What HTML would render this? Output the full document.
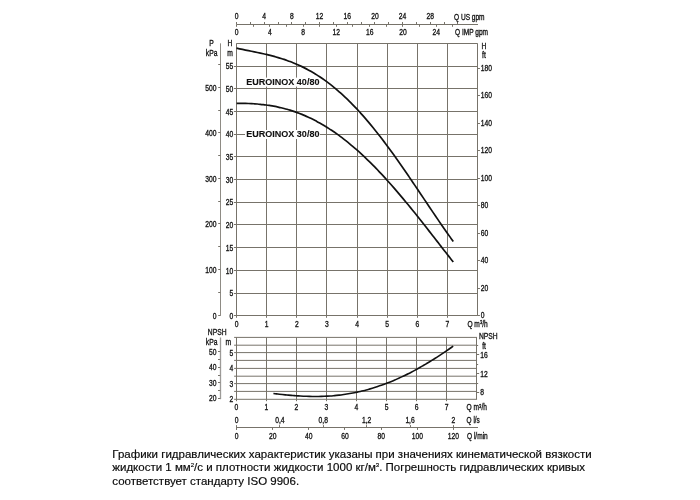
<!DOCTYPE html>
<html lang="ru">
<head>
<meta charset="utf-8">
<title>EUROINOX</title>
<style>
html,body{margin:0;padding:0;background:#fff;}
body{width:700px;height:500px;position:relative;overflow:hidden;font-family:"Liberation Sans",sans-serif;}
svg{position:absolute;left:0;top:0;}
svg text{font-family:"Liberation Sans",sans-serif;}
.note{position:absolute;left:112.3px;top:448.2px;width:520px;font-size:11.5px;line-height:13.2px;color:#0a0a0a;-webkit-text-stroke:0.18px #0a0a0a;white-space:nowrap;}
.note sup{font-size:6px;line-height:0;vertical-align:baseline;position:relative;top:-4.4px;}
</style>
</head>
<body>
<svg width="700" height="500" viewBox="0 0 700 500">
<line x1="236.50" y1="24.50" x2="478.00" y2="24.50" stroke="#77736a" stroke-width="1" />
<line x1="236.50" y1="22.00" x2="236.50" y2="24.40" stroke="#77736a" stroke-width="1" />
<line x1="250.50" y1="22.00" x2="250.50" y2="24.40" stroke="#77736a" stroke-width="1" />
<line x1="264.50" y1="22.00" x2="264.50" y2="24.40" stroke="#77736a" stroke-width="1" />
<line x1="278.50" y1="22.00" x2="278.50" y2="24.40" stroke="#77736a" stroke-width="1" />
<line x1="291.50" y1="22.00" x2="291.50" y2="24.40" stroke="#77736a" stroke-width="1" />
<line x1="305.50" y1="22.00" x2="305.50" y2="24.40" stroke="#77736a" stroke-width="1" />
<line x1="319.50" y1="22.00" x2="319.50" y2="24.40" stroke="#77736a" stroke-width="1" />
<line x1="333.50" y1="22.00" x2="333.50" y2="24.40" stroke="#77736a" stroke-width="1" />
<line x1="347.50" y1="22.00" x2="347.50" y2="24.40" stroke="#77736a" stroke-width="1" />
<line x1="361.50" y1="22.00" x2="361.50" y2="24.40" stroke="#77736a" stroke-width="1" />
<line x1="374.50" y1="22.00" x2="374.50" y2="24.40" stroke="#77736a" stroke-width="1" />
<line x1="388.50" y1="22.00" x2="388.50" y2="24.40" stroke="#77736a" stroke-width="1" />
<line x1="402.50" y1="22.00" x2="402.50" y2="24.40" stroke="#77736a" stroke-width="1" />
<line x1="416.50" y1="22.00" x2="416.50" y2="24.40" stroke="#77736a" stroke-width="1" />
<line x1="430.50" y1="22.00" x2="430.50" y2="24.40" stroke="#77736a" stroke-width="1" />
<line x1="444.50" y1="22.00" x2="444.50" y2="24.40" stroke="#77736a" stroke-width="1" />
<line x1="457.50" y1="22.00" x2="457.50" y2="24.40" stroke="#77736a" stroke-width="1" />
<line x1="236.50" y1="24.40" x2="236.50" y2="26.80" stroke="#77736a" stroke-width="1" />
<line x1="253.50" y1="24.40" x2="253.50" y2="26.80" stroke="#77736a" stroke-width="1" />
<line x1="269.50" y1="24.40" x2="269.50" y2="26.80" stroke="#77736a" stroke-width="1" />
<line x1="286.50" y1="24.40" x2="286.50" y2="26.80" stroke="#77736a" stroke-width="1" />
<line x1="303.50" y1="24.40" x2="303.50" y2="26.80" stroke="#77736a" stroke-width="1" />
<line x1="319.50" y1="24.40" x2="319.50" y2="26.80" stroke="#77736a" stroke-width="1" />
<line x1="336.50" y1="24.40" x2="336.50" y2="26.80" stroke="#77736a" stroke-width="1" />
<line x1="352.50" y1="24.40" x2="352.50" y2="26.80" stroke="#77736a" stroke-width="1" />
<line x1="369.50" y1="24.40" x2="369.50" y2="26.80" stroke="#77736a" stroke-width="1" />
<line x1="386.50" y1="24.40" x2="386.50" y2="26.80" stroke="#77736a" stroke-width="1" />
<line x1="402.50" y1="24.40" x2="402.50" y2="26.80" stroke="#77736a" stroke-width="1" />
<line x1="419.50" y1="24.40" x2="419.50" y2="26.80" stroke="#77736a" stroke-width="1" />
<line x1="436.50" y1="24.40" x2="436.50" y2="26.80" stroke="#77736a" stroke-width="1" />
<line x1="452.50" y1="24.40" x2="452.50" y2="26.80" stroke="#77736a" stroke-width="1" />
<text transform="translate(236.50 19.20) scale(0.775 1)" text-anchor="middle" font-size="8.7" font-weight="normal" fill="#131313" stroke="#131313" stroke-width="0.34">0</text>
<text transform="translate(264.18 19.20) scale(0.775 1)" text-anchor="middle" font-size="8.7" font-weight="normal" fill="#131313" stroke="#131313" stroke-width="0.34">4</text>
<text transform="translate(291.86 19.20) scale(0.775 1)" text-anchor="middle" font-size="8.7" font-weight="normal" fill="#131313" stroke="#131313" stroke-width="0.34">8</text>
<text transform="translate(319.54 19.20) scale(0.775 1)" text-anchor="middle" font-size="8.7" font-weight="normal" fill="#131313" stroke="#131313" stroke-width="0.34">12</text>
<text transform="translate(347.22 19.20) scale(0.775 1)" text-anchor="middle" font-size="8.7" font-weight="normal" fill="#131313" stroke="#131313" stroke-width="0.34">16</text>
<text transform="translate(374.90 19.20) scale(0.775 1)" text-anchor="middle" font-size="8.7" font-weight="normal" fill="#131313" stroke="#131313" stroke-width="0.34">20</text>
<text transform="translate(402.58 19.20) scale(0.775 1)" text-anchor="middle" font-size="8.7" font-weight="normal" fill="#131313" stroke="#131313" stroke-width="0.34">24</text>
<text transform="translate(430.26 19.20) scale(0.775 1)" text-anchor="middle" font-size="8.7" font-weight="normal" fill="#131313" stroke="#131313" stroke-width="0.34">28</text>
<text transform="translate(236.50 34.60) scale(0.775 1)" text-anchor="middle" font-size="8.7" font-weight="normal" fill="#131313" stroke="#131313" stroke-width="0.34">0</text>
<text transform="translate(269.78 34.60) scale(0.775 1)" text-anchor="middle" font-size="8.7" font-weight="normal" fill="#131313" stroke="#131313" stroke-width="0.34">4</text>
<text transform="translate(303.06 34.60) scale(0.775 1)" text-anchor="middle" font-size="8.7" font-weight="normal" fill="#131313" stroke="#131313" stroke-width="0.34">8</text>
<text transform="translate(336.34 34.60) scale(0.775 1)" text-anchor="middle" font-size="8.7" font-weight="normal" fill="#131313" stroke="#131313" stroke-width="0.34">12</text>
<text transform="translate(369.62 34.60) scale(0.775 1)" text-anchor="middle" font-size="8.7" font-weight="normal" fill="#131313" stroke="#131313" stroke-width="0.34">16</text>
<text transform="translate(402.90 34.60) scale(0.775 1)" text-anchor="middle" font-size="8.7" font-weight="normal" fill="#131313" stroke="#131313" stroke-width="0.34">20</text>
<text transform="translate(436.18 34.60) scale(0.775 1)" text-anchor="middle" font-size="8.7" font-weight="normal" fill="#131313" stroke="#131313" stroke-width="0.34">24</text>
<text transform="translate(454.00 19.70) scale(0.755 1)" text-anchor="start" font-size="8.7" font-weight="normal" fill="#131313" stroke="#131313" stroke-width="0.34">Q US gpm</text>
<text transform="translate(455.00 34.80) scale(0.755 1)" text-anchor="start" font-size="8.7" font-weight="normal" fill="#131313" stroke="#131313" stroke-width="0.34">Q IMP gpm</text>
<line x1="236.50" y1="43.34" x2="236.50" y2="315.80" stroke="#77736a" stroke-width="1" />
<line x1="266.50" y1="43.34" x2="266.50" y2="315.80" stroke="#77736a" stroke-width="1" />
<line x1="296.50" y1="43.34" x2="296.50" y2="315.80" stroke="#77736a" stroke-width="1" />
<line x1="326.50" y1="43.34" x2="326.50" y2="315.80" stroke="#77736a" stroke-width="1" />
<line x1="357.50" y1="43.34" x2="357.50" y2="315.80" stroke="#77736a" stroke-width="1" />
<line x1="387.50" y1="43.34" x2="387.50" y2="315.80" stroke="#77736a" stroke-width="1" />
<line x1="417.50" y1="43.34" x2="417.50" y2="315.80" stroke="#77736a" stroke-width="1" />
<line x1="447.50" y1="43.34" x2="447.50" y2="315.80" stroke="#77736a" stroke-width="1" />
<line x1="477.50" y1="43.34" x2="477.50" y2="315.80" stroke="#77736a" stroke-width="1" />
<line x1="233.90" y1="315.50" x2="477.54" y2="315.50" stroke="#77736a" stroke-width="1" />
<line x1="233.90" y1="293.50" x2="477.54" y2="293.50" stroke="#77736a" stroke-width="1" />
<line x1="233.90" y1="270.50" x2="477.54" y2="270.50" stroke="#77736a" stroke-width="1" />
<line x1="233.90" y1="247.50" x2="477.54" y2="247.50" stroke="#77736a" stroke-width="1" />
<line x1="233.90" y1="224.50" x2="477.54" y2="224.50" stroke="#77736a" stroke-width="1" />
<line x1="233.90" y1="202.50" x2="477.54" y2="202.50" stroke="#77736a" stroke-width="1" />
<line x1="233.90" y1="179.50" x2="477.54" y2="179.50" stroke="#77736a" stroke-width="1" />
<line x1="233.90" y1="156.50" x2="477.54" y2="156.50" stroke="#77736a" stroke-width="1" />
<line x1="233.90" y1="134.50" x2="477.54" y2="134.50" stroke="#77736a" stroke-width="1" />
<line x1="233.90" y1="111.50" x2="477.54" y2="111.50" stroke="#77736a" stroke-width="1" />
<line x1="233.90" y1="88.50" x2="477.54" y2="88.50" stroke="#77736a" stroke-width="1" />
<line x1="233.90" y1="66.50" x2="477.54" y2="66.50" stroke="#77736a" stroke-width="1" />
<line x1="236.50" y1="43.50" x2="477.54" y2="43.50" stroke="#77736a" stroke-width="1" />
<line x1="236.50" y1="315.80" x2="236.50" y2="317.80" stroke="#77736a" stroke-width="1" />
<line x1="266.50" y1="315.80" x2="266.50" y2="317.80" stroke="#77736a" stroke-width="1" />
<line x1="296.50" y1="315.80" x2="296.50" y2="317.80" stroke="#77736a" stroke-width="1" />
<line x1="326.50" y1="315.80" x2="326.50" y2="317.80" stroke="#77736a" stroke-width="1" />
<line x1="357.50" y1="315.80" x2="357.50" y2="317.80" stroke="#77736a" stroke-width="1" />
<line x1="387.50" y1="315.80" x2="387.50" y2="317.80" stroke="#77736a" stroke-width="1" />
<line x1="417.50" y1="315.80" x2="417.50" y2="317.80" stroke="#77736a" stroke-width="1" />
<line x1="447.50" y1="315.80" x2="447.50" y2="317.80" stroke="#77736a" stroke-width="1" />
<line x1="220.50" y1="43.34" x2="220.50" y2="315.80" stroke="#8e8b84" stroke-width="1" />
<line x1="218.20" y1="315.50" x2="220.40" y2="315.50" stroke="#77736a" stroke-width="1" />
<line x1="218.20" y1="292.50" x2="220.40" y2="292.50" stroke="#77736a" stroke-width="1" />
<line x1="218.20" y1="269.50" x2="220.40" y2="269.50" stroke="#77736a" stroke-width="1" />
<line x1="218.20" y1="246.50" x2="220.40" y2="246.50" stroke="#77736a" stroke-width="1" />
<line x1="218.20" y1="223.50" x2="220.40" y2="223.50" stroke="#77736a" stroke-width="1" />
<line x1="218.20" y1="201.50" x2="220.40" y2="201.50" stroke="#77736a" stroke-width="1" />
<line x1="218.20" y1="178.50" x2="220.40" y2="178.50" stroke="#77736a" stroke-width="1" />
<line x1="218.20" y1="155.50" x2="220.40" y2="155.50" stroke="#77736a" stroke-width="1" />
<line x1="218.20" y1="132.50" x2="220.40" y2="132.50" stroke="#77736a" stroke-width="1" />
<line x1="218.20" y1="110.50" x2="220.40" y2="110.50" stroke="#77736a" stroke-width="1" />
<line x1="218.20" y1="87.50" x2="220.40" y2="87.50" stroke="#77736a" stroke-width="1" />
<line x1="218.20" y1="64.50" x2="220.40" y2="64.50" stroke="#77736a" stroke-width="1" />
<text transform="translate(216.50 318.80) scale(0.775 1)" text-anchor="end" font-size="8.7" font-weight="normal" fill="#131313" stroke="#131313" stroke-width="0.34">0</text>
<text transform="translate(216.50 272.52) scale(0.775 1)" text-anchor="end" font-size="8.7" font-weight="normal" fill="#131313" stroke="#131313" stroke-width="0.34">100</text>
<text transform="translate(216.50 227.04) scale(0.775 1)" text-anchor="end" font-size="8.7" font-weight="normal" fill="#131313" stroke="#131313" stroke-width="0.34">200</text>
<text transform="translate(216.50 181.56) scale(0.775 1)" text-anchor="end" font-size="8.7" font-weight="normal" fill="#131313" stroke="#131313" stroke-width="0.34">300</text>
<text transform="translate(216.50 136.08) scale(0.775 1)" text-anchor="end" font-size="8.7" font-weight="normal" fill="#131313" stroke="#131313" stroke-width="0.34">400</text>
<text transform="translate(216.50 90.60) scale(0.775 1)" text-anchor="end" font-size="8.7" font-weight="normal" fill="#131313" stroke="#131313" stroke-width="0.34">500</text>
<text transform="translate(233.20 319.00) scale(0.775 1)" text-anchor="end" font-size="8.7" font-weight="normal" fill="#131313" stroke="#131313" stroke-width="0.34">0</text>
<text transform="translate(233.20 296.30) scale(0.775 1)" text-anchor="end" font-size="8.7" font-weight="normal" fill="#131313" stroke="#131313" stroke-width="0.34">5</text>
<text transform="translate(233.20 273.59) scale(0.775 1)" text-anchor="end" font-size="8.7" font-weight="normal" fill="#131313" stroke="#131313" stroke-width="0.34">10</text>
<text transform="translate(233.20 250.88) scale(0.775 1)" text-anchor="end" font-size="8.7" font-weight="normal" fill="#131313" stroke="#131313" stroke-width="0.34">15</text>
<text transform="translate(233.20 228.18) scale(0.775 1)" text-anchor="end" font-size="8.7" font-weight="normal" fill="#131313" stroke="#131313" stroke-width="0.34">20</text>
<text transform="translate(233.20 205.47) scale(0.775 1)" text-anchor="end" font-size="8.7" font-weight="normal" fill="#131313" stroke="#131313" stroke-width="0.34">25</text>
<text transform="translate(233.20 182.77) scale(0.775 1)" text-anchor="end" font-size="8.7" font-weight="normal" fill="#131313" stroke="#131313" stroke-width="0.34">30</text>
<text transform="translate(233.20 160.06) scale(0.775 1)" text-anchor="end" font-size="8.7" font-weight="normal" fill="#131313" stroke="#131313" stroke-width="0.34">35</text>
<text transform="translate(233.20 137.36) scale(0.775 1)" text-anchor="end" font-size="8.7" font-weight="normal" fill="#131313" stroke="#131313" stroke-width="0.34">40</text>
<text transform="translate(233.20 114.65) scale(0.775 1)" text-anchor="end" font-size="8.7" font-weight="normal" fill="#131313" stroke="#131313" stroke-width="0.34">45</text>
<text transform="translate(233.20 91.95) scale(0.775 1)" text-anchor="end" font-size="8.7" font-weight="normal" fill="#131313" stroke="#131313" stroke-width="0.34">50</text>
<text transform="translate(233.20 69.24) scale(0.775 1)" text-anchor="end" font-size="8.7" font-weight="normal" fill="#131313" stroke="#131313" stroke-width="0.34">55</text>
<text transform="translate(211.60 46.00) scale(0.775 1)" text-anchor="middle" font-size="8.7" font-weight="normal" fill="#131313" stroke="#131313" stroke-width="0.34">P</text>
<text transform="translate(211.60 56.00) scale(0.775 1)" text-anchor="middle" font-size="8.7" font-weight="normal" fill="#131313" stroke="#131313" stroke-width="0.34">kPa</text>
<text transform="translate(230.00 46.00) scale(0.775 1)" text-anchor="middle" font-size="8.7" font-weight="normal" fill="#131313" stroke="#131313" stroke-width="0.34">H</text>
<text transform="translate(230.00 56.00) scale(0.775 1)" text-anchor="middle" font-size="8.7" font-weight="normal" fill="#131313" stroke="#131313" stroke-width="0.34">m</text>
<line x1="477.54" y1="315.50" x2="479.94" y2="315.50" stroke="#77736a" stroke-width="1" />
<line x1="477.54" y1="288.50" x2="479.94" y2="288.50" stroke="#77736a" stroke-width="1" />
<line x1="477.54" y1="260.50" x2="479.94" y2="260.50" stroke="#77736a" stroke-width="1" />
<line x1="477.54" y1="233.50" x2="479.94" y2="233.50" stroke="#77736a" stroke-width="1" />
<line x1="477.54" y1="205.50" x2="479.94" y2="205.50" stroke="#77736a" stroke-width="1" />
<line x1="477.54" y1="178.50" x2="479.94" y2="178.50" stroke="#77736a" stroke-width="1" />
<line x1="477.54" y1="150.50" x2="479.94" y2="150.50" stroke="#77736a" stroke-width="1" />
<line x1="477.54" y1="123.50" x2="479.94" y2="123.50" stroke="#77736a" stroke-width="1" />
<line x1="477.54" y1="95.50" x2="479.94" y2="95.50" stroke="#77736a" stroke-width="1" />
<line x1="477.54" y1="68.50" x2="479.94" y2="68.50" stroke="#77736a" stroke-width="1" />
<text transform="translate(480.80 318.30) scale(0.775 1)" text-anchor="start" font-size="8.7" font-weight="normal" fill="#131313" stroke="#131313" stroke-width="0.34">0</text>
<text transform="translate(480.80 290.78) scale(0.775 1)" text-anchor="start" font-size="8.7" font-weight="normal" fill="#131313" stroke="#131313" stroke-width="0.34">20</text>
<text transform="translate(480.80 263.26) scale(0.775 1)" text-anchor="start" font-size="8.7" font-weight="normal" fill="#131313" stroke="#131313" stroke-width="0.34">40</text>
<text transform="translate(480.80 235.74) scale(0.775 1)" text-anchor="start" font-size="8.7" font-weight="normal" fill="#131313" stroke="#131313" stroke-width="0.34">60</text>
<text transform="translate(480.80 208.22) scale(0.775 1)" text-anchor="start" font-size="8.7" font-weight="normal" fill="#131313" stroke="#131313" stroke-width="0.34">80</text>
<text transform="translate(480.80 180.70) scale(0.775 1)" text-anchor="start" font-size="8.7" font-weight="normal" fill="#131313" stroke="#131313" stroke-width="0.34">100</text>
<text transform="translate(480.80 153.18) scale(0.775 1)" text-anchor="start" font-size="8.7" font-weight="normal" fill="#131313" stroke="#131313" stroke-width="0.34">120</text>
<text transform="translate(480.80 125.66) scale(0.775 1)" text-anchor="start" font-size="8.7" font-weight="normal" fill="#131313" stroke="#131313" stroke-width="0.34">140</text>
<text transform="translate(480.80 98.14) scale(0.775 1)" text-anchor="start" font-size="8.7" font-weight="normal" fill="#131313" stroke="#131313" stroke-width="0.34">160</text>
<text transform="translate(480.80 70.62) scale(0.775 1)" text-anchor="start" font-size="8.7" font-weight="normal" fill="#131313" stroke="#131313" stroke-width="0.34">180</text>
<text transform="translate(484.00 49.00) scale(0.775 1)" text-anchor="middle" font-size="8.7" font-weight="normal" fill="#131313" stroke="#131313" stroke-width="0.34">H</text>
<text transform="translate(483.90 57.80) scale(0.775 1)" text-anchor="middle" font-size="8.7" font-weight="normal" fill="#131313" stroke="#131313" stroke-width="0.34">ft</text>
<text transform="translate(236.50 327.20) scale(0.775 1)" text-anchor="middle" font-size="8.7" font-weight="normal" fill="#131313" stroke="#131313" stroke-width="0.34">0</text>
<text transform="translate(266.63 327.20) scale(0.775 1)" text-anchor="middle" font-size="8.7" font-weight="normal" fill="#131313" stroke="#131313" stroke-width="0.34">1</text>
<text transform="translate(296.76 327.20) scale(0.775 1)" text-anchor="middle" font-size="8.7" font-weight="normal" fill="#131313" stroke="#131313" stroke-width="0.34">2</text>
<text transform="translate(326.89 327.20) scale(0.775 1)" text-anchor="middle" font-size="8.7" font-weight="normal" fill="#131313" stroke="#131313" stroke-width="0.34">3</text>
<text transform="translate(357.02 327.20) scale(0.775 1)" text-anchor="middle" font-size="8.7" font-weight="normal" fill="#131313" stroke="#131313" stroke-width="0.34">4</text>
<text transform="translate(387.15 327.20) scale(0.775 1)" text-anchor="middle" font-size="8.7" font-weight="normal" fill="#131313" stroke="#131313" stroke-width="0.34">5</text>
<text transform="translate(417.28 327.20) scale(0.775 1)" text-anchor="middle" font-size="8.7" font-weight="normal" fill="#131313" stroke="#131313" stroke-width="0.34">6</text>
<text transform="translate(447.41 327.20) scale(0.775 1)" text-anchor="middle" font-size="8.7" font-weight="normal" fill="#131313" stroke="#131313" stroke-width="0.34">7</text>
<text transform="translate(467.4 327.2) scale(0.76 1)" font-size="8.7" fill="#131313" stroke="#131313" stroke-width="0.34">Q m<tspan dy="-2.8" font-size="5.6">3</tspan><tspan dy="2.8">/h</tspan></text>
<rect x="245" y="77.6" width="75" height="9" fill="#fff"/>
<rect x="245" y="130" width="75" height="9" fill="#fff"/>
<path d="M236.60 48.17 C237.09 48.28 238.58 48.61 239.57 48.82 C240.56 49.03 241.55 49.24 242.54 49.45 C243.53 49.65 244.52 49.85 245.51 50.05 C246.49 50.26 247.48 50.46 248.47 50.66 C249.46 50.85 250.45 51.05 251.44 51.25 C252.43 51.45 253.42 51.65 254.41 51.86 C255.40 52.06 256.39 52.26 257.38 52.47 C258.37 52.68 259.36 52.89 260.35 53.10 C261.34 53.31 262.33 53.53 263.32 53.75 C264.31 53.98 265.30 54.20 266.28 54.44 C267.27 54.67 268.26 54.91 269.25 55.15 C270.24 55.40 271.23 55.65 272.22 55.91 C273.21 56.17 274.20 56.44 275.19 56.71 C276.18 56.99 277.17 57.27 278.16 57.56 C279.15 57.85 280.14 58.15 281.13 58.47 C282.12 58.78 283.11 59.10 284.10 59.43 C285.09 59.76 286.07 60.10 287.06 60.45 C288.05 60.81 289.04 61.17 290.03 61.55 C291.02 61.92 292.01 62.31 293.00 62.71 C293.99 63.11 294.98 63.52 295.97 63.94 C296.96 64.37 297.95 64.80 298.94 65.25 C299.93 65.70 300.92 66.17 301.91 66.64 C302.90 67.12 303.89 67.61 304.88 68.12 C305.86 68.62 306.85 69.14 307.84 69.68 C308.83 70.21 309.82 70.76 310.81 71.32 C311.80 71.89 312.79 72.47 313.78 73.06 C314.77 73.65 315.76 74.26 316.75 74.89 C317.74 75.51 318.73 76.15 319.72 76.81 C320.71 77.46 321.70 78.13 322.69 78.82 C323.68 79.51 324.67 80.21 325.65 80.93 C326.64 81.65 327.63 82.39 328.62 83.14 C329.61 83.89 330.60 84.66 331.59 85.44 C332.58 86.22 333.57 87.02 334.56 87.84 C335.55 88.66 336.54 89.49 337.53 90.34 C338.52 91.19 339.51 92.05 340.50 92.94 C341.49 93.82 342.48 94.72 343.47 95.63 C344.46 96.54 345.44 97.48 346.43 98.42 C347.42 99.37 348.41 100.33 349.40 101.31 C350.39 102.29 351.38 103.28 352.37 104.29 C353.36 105.31 354.35 106.33 355.34 107.37 C356.33 108.42 357.32 109.47 358.31 110.55 C359.30 111.62 360.29 112.71 361.28 113.81 C362.27 114.91 363.26 116.03 364.25 117.16 C365.23 118.30 366.22 119.44 367.21 120.61 C368.20 121.77 369.19 122.94 370.18 124.13 C371.17 125.32 372.16 126.53 373.15 127.74 C374.14 128.96 375.13 130.19 376.12 131.44 C377.11 132.68 378.10 133.94 379.09 135.21 C380.08 136.47 381.07 137.76 382.06 139.05 C383.05 140.34 384.04 141.65 385.02 142.96 C386.01 144.28 387.00 145.61 387.99 146.95 C388.98 148.29 389.97 149.63 390.96 150.99 C391.95 152.35 392.94 153.72 393.93 155.10 C394.92 156.48 395.91 157.87 396.90 159.26 C397.89 160.66 398.88 162.06 399.87 163.47 C400.86 164.88 401.85 166.30 402.84 167.73 C403.83 169.16 404.81 170.59 405.80 172.03 C406.79 173.47 407.78 174.92 408.77 176.37 C409.76 177.82 410.75 179.27 411.74 180.73 C412.73 182.19 413.72 183.66 414.71 185.12 C415.70 186.59 416.69 188.06 417.68 189.53 C418.67 191.00 419.66 192.48 420.65 193.95 C421.64 195.43 422.63 196.91 423.62 198.38 C424.60 199.86 425.59 201.34 426.58 202.81 C427.57 204.29 428.56 205.76 429.55 207.24 C430.54 208.71 431.53 210.18 432.52 211.64 C433.51 213.11 434.50 214.57 435.49 216.03 C436.48 217.49 437.47 218.94 438.46 220.39 C439.45 221.84 440.44 223.28 441.43 224.71 C442.42 226.15 443.41 227.57 444.39 228.99 C445.38 230.41 446.37 231.82 447.36 233.22 C448.35 234.61 449.34 236.00 450.33 237.38 C451.32 238.76 452.81 240.79 453.30 241.48" fill="none" stroke="#111" stroke-width="1.7" stroke-linecap="butt"/>
<path d="M236.60 103.38 C237.09 103.37 238.58 103.35 239.57 103.35 C240.56 103.35 241.55 103.35 242.54 103.36 C243.53 103.37 244.52 103.39 245.51 103.41 C246.49 103.43 247.48 103.46 248.47 103.49 C249.46 103.53 250.45 103.57 251.44 103.62 C252.43 103.67 253.42 103.73 254.41 103.79 C255.40 103.86 256.39 103.93 257.38 104.01 C258.37 104.09 259.36 104.18 260.35 104.28 C261.34 104.37 262.33 104.48 263.32 104.60 C264.31 104.71 265.30 104.84 266.28 104.97 C267.27 105.10 268.26 105.25 269.25 105.40 C270.24 105.55 271.23 105.72 272.22 105.89 C273.21 106.06 274.20 106.25 275.19 106.44 C276.18 106.63 277.17 106.84 278.16 107.05 C279.15 107.27 280.14 107.49 281.13 107.73 C282.12 107.97 283.11 108.22 284.10 108.47 C285.09 108.73 286.07 109.00 287.06 109.29 C288.05 109.57 289.04 109.86 290.03 110.17 C291.02 110.47 292.01 110.79 293.00 111.12 C293.99 111.45 294.98 111.79 295.97 112.14 C296.96 112.49 297.95 112.86 298.94 113.23 C299.93 113.61 300.92 114.00 301.91 114.40 C302.90 114.81 303.89 115.22 304.88 115.65 C305.86 116.07 306.85 116.51 307.84 116.97 C308.83 117.42 309.82 117.88 310.81 118.36 C311.80 118.84 312.79 119.33 313.78 119.83 C314.77 120.34 315.76 120.86 316.75 121.38 C317.74 121.91 318.73 122.46 319.72 123.01 C320.71 123.57 321.70 124.14 322.69 124.72 C323.68 125.30 324.67 125.90 325.65 126.50 C326.64 127.11 327.63 127.73 328.62 128.37 C329.61 129.00 330.60 129.65 331.59 130.31 C332.58 130.97 333.57 131.64 334.56 132.32 C335.55 133.01 336.54 133.71 337.53 134.42 C338.52 135.13 339.51 135.86 340.50 136.60 C341.49 137.33 342.48 138.08 343.47 138.85 C344.46 139.61 345.44 140.39 346.43 141.17 C347.42 141.96 348.41 142.76 349.40 143.58 C350.39 144.39 351.38 145.22 352.37 146.06 C353.36 146.89 354.35 147.74 355.34 148.61 C356.33 149.47 357.32 150.35 358.31 151.23 C359.30 152.12 360.29 153.02 361.28 153.93 C362.27 154.84 363.26 155.76 364.25 156.70 C365.23 157.63 366.22 158.58 367.21 159.53 C368.20 160.49 369.19 161.46 370.18 162.44 C371.17 163.42 372.16 164.41 373.15 165.41 C374.14 166.41 375.13 167.42 376.12 168.45 C377.11 169.47 378.10 170.50 379.09 171.55 C380.08 172.59 381.07 173.64 382.06 174.70 C383.05 175.77 384.04 176.84 385.02 177.92 C386.01 179.01 387.00 180.10 387.99 181.20 C388.98 182.30 389.97 183.41 390.96 184.53 C391.95 185.65 392.94 186.78 393.93 187.91 C394.92 189.05 395.91 190.19 396.90 191.34 C397.89 192.50 398.88 193.66 399.87 194.83 C400.86 195.99 401.85 197.17 402.84 198.35 C403.83 199.53 404.81 200.72 405.80 201.92 C406.79 203.11 407.78 204.32 408.77 205.52 C409.76 206.73 410.75 207.95 411.74 209.17 C412.73 210.39 413.72 211.61 414.71 212.84 C415.70 214.07 416.69 215.31 417.68 216.55 C418.67 217.79 419.66 219.03 420.65 220.28 C421.64 221.53 422.63 222.78 423.62 224.04 C424.60 225.29 425.59 226.55 426.58 227.82 C427.57 229.08 428.56 230.34 429.55 231.61 C430.54 232.88 431.53 234.14 432.52 235.41 C433.51 236.68 434.50 237.96 435.49 239.23 C436.48 240.50 437.47 241.78 438.46 243.05 C439.45 244.32 440.44 245.60 441.43 246.87 C442.42 248.14 443.41 249.41 444.39 250.69 C445.38 251.96 446.37 253.23 447.36 254.50 C448.35 255.76 449.34 257.03 450.33 258.29 C451.32 259.56 452.81 261.44 453.30 262.07" fill="none" stroke="#111" stroke-width="1.7" stroke-linecap="butt"/>
<text transform="translate(246.30 84.90) scale(1.05 1)" text-anchor="start" font-size="8.6" font-weight="bold" fill="#111" stroke="#111" stroke-width="0.1">EUROINOX 40/80</text>
<text transform="translate(246.30 137.20) scale(1.05 1)" text-anchor="start" font-size="8.6" font-weight="bold" fill="#111" stroke="#111" stroke-width="0.1">EUROINOX 30/80</text>
<line x1="236.50" y1="337.48" x2="236.50" y2="399.20" stroke="#77736a" stroke-width="1" />
<line x1="266.50" y1="337.48" x2="266.50" y2="399.20" stroke="#77736a" stroke-width="1" />
<line x1="296.50" y1="337.48" x2="296.50" y2="399.20" stroke="#77736a" stroke-width="1" />
<line x1="326.50" y1="337.48" x2="326.50" y2="399.20" stroke="#77736a" stroke-width="1" />
<line x1="356.50" y1="337.48" x2="356.50" y2="399.20" stroke="#77736a" stroke-width="1" />
<line x1="386.50" y1="337.48" x2="386.50" y2="399.20" stroke="#77736a" stroke-width="1" />
<line x1="416.50" y1="337.48" x2="416.50" y2="399.20" stroke="#77736a" stroke-width="1" />
<line x1="446.50" y1="337.48" x2="446.50" y2="399.20" stroke="#77736a" stroke-width="1" />
<line x1="476.50" y1="337.48" x2="476.50" y2="399.20" stroke="#77736a" stroke-width="1" />
<line x1="234.10" y1="399.3" x2="477.06" y2="399.3" stroke="#77736a" stroke-width="1"/>
<line x1="234.10" y1="391.4" x2="477.06" y2="391.4" stroke="#77736a" stroke-width="1"/>
<line x1="234.10" y1="383.6" x2="477.06" y2="383.6" stroke="#77736a" stroke-width="1"/>
<line x1="234.10" y1="376.2" x2="477.06" y2="376.2" stroke="#77736a" stroke-width="1"/>
<line x1="234.10" y1="368.4" x2="477.06" y2="368.4" stroke="#77736a" stroke-width="1"/>
<line x1="234.10" y1="360.4" x2="477.06" y2="360.4" stroke="#77736a" stroke-width="1"/>
<line x1="234.10" y1="352.6" x2="477.06" y2="352.6" stroke="#77736a" stroke-width="1"/>
<line x1="234.10" y1="345.2" x2="477.06" y2="345.2" stroke="#77736a" stroke-width="1"/>
<line x1="234.10" y1="337.4" x2="477.06" y2="337.4" stroke="#77736a" stroke-width="1"/>
<line x1="236.50" y1="399.20" x2="236.50" y2="401.20" stroke="#77736a" stroke-width="1" />
<line x1="266.50" y1="399.20" x2="266.50" y2="401.20" stroke="#77736a" stroke-width="1" />
<line x1="296.50" y1="399.20" x2="296.50" y2="401.20" stroke="#77736a" stroke-width="1" />
<line x1="326.50" y1="399.20" x2="326.50" y2="401.20" stroke="#77736a" stroke-width="1" />
<line x1="356.50" y1="399.20" x2="356.50" y2="401.20" stroke="#77736a" stroke-width="1" />
<line x1="386.50" y1="399.20" x2="386.50" y2="401.20" stroke="#77736a" stroke-width="1" />
<line x1="416.50" y1="399.20" x2="416.50" y2="401.20" stroke="#77736a" stroke-width="1" />
<line x1="446.50" y1="399.20" x2="446.50" y2="401.20" stroke="#77736a" stroke-width="1" />
<line x1="220.50" y1="337.48" x2="220.50" y2="399.20" stroke="#9d9b98" stroke-width="1.3" />
<line x1="218.00" y1="398.50" x2="220.20" y2="398.50" stroke="#77736a" stroke-width="1" />
<line x1="218.00" y1="390.50" x2="220.20" y2="390.50" stroke="#77736a" stroke-width="1" />
<line x1="218.00" y1="382.50" x2="220.20" y2="382.50" stroke="#77736a" stroke-width="1" />
<line x1="218.00" y1="375.50" x2="220.20" y2="375.50" stroke="#77736a" stroke-width="1" />
<line x1="218.00" y1="367.50" x2="220.20" y2="367.50" stroke="#77736a" stroke-width="1" />
<line x1="218.00" y1="359.50" x2="220.20" y2="359.50" stroke="#77736a" stroke-width="1" />
<line x1="218.00" y1="351.50" x2="220.20" y2="351.50" stroke="#77736a" stroke-width="1" />
<text transform="translate(216.60 401.40) scale(0.775 1)" text-anchor="end" font-size="8.7" font-weight="normal" fill="#131313" stroke="#131313" stroke-width="0.34">20</text>
<text transform="translate(216.60 385.80) scale(0.775 1)" text-anchor="end" font-size="8.7" font-weight="normal" fill="#131313" stroke="#131313" stroke-width="0.34">30</text>
<text transform="translate(216.60 370.20) scale(0.775 1)" text-anchor="end" font-size="8.7" font-weight="normal" fill="#131313" stroke="#131313" stroke-width="0.34">40</text>
<text transform="translate(216.60 354.60) scale(0.775 1)" text-anchor="end" font-size="8.7" font-weight="normal" fill="#131313" stroke="#131313" stroke-width="0.34">50</text>
<text transform="translate(233.20 402.20) scale(0.775 1)" text-anchor="end" font-size="8.7" font-weight="normal" fill="#131313" stroke="#131313" stroke-width="0.34">2</text>
<text transform="translate(233.20 386.77) scale(0.775 1)" text-anchor="end" font-size="8.7" font-weight="normal" fill="#131313" stroke="#131313" stroke-width="0.34">3</text>
<text transform="translate(233.20 371.34) scale(0.775 1)" text-anchor="end" font-size="8.7" font-weight="normal" fill="#131313" stroke="#131313" stroke-width="0.34">4</text>
<text transform="translate(233.20 355.91) scale(0.775 1)" text-anchor="end" font-size="8.7" font-weight="normal" fill="#131313" stroke="#131313" stroke-width="0.34">5</text>
<text transform="translate(217.20 334.60) scale(0.775 1)" text-anchor="middle" font-size="8.7" font-weight="normal" fill="#131313" stroke="#131313" stroke-width="0.34">NPSH</text>
<text transform="translate(211.60 345.00) scale(0.775 1)" text-anchor="middle" font-size="8.7" font-weight="normal" fill="#131313" stroke="#131313" stroke-width="0.34">kPa</text>
<text transform="translate(228.20 344.60) scale(0.775 1)" text-anchor="middle" font-size="8.7" font-weight="normal" fill="#131313" stroke="#131313" stroke-width="0.34">m</text>
<text transform="translate(479.00 339.00) scale(0.775 1)" text-anchor="start" font-size="8.7" font-weight="normal" fill="#131313" stroke="#131313" stroke-width="0.34">NPSH</text>
<text transform="translate(484.00 349.00) scale(0.775 1)" text-anchor="middle" font-size="8.7" font-weight="normal" fill="#131313" stroke="#131313" stroke-width="0.34">ft</text>
<line x1="476.56" y1="392.50" x2="479.16" y2="392.50" stroke="#77736a" stroke-width="1" />
<line x1="476.56" y1="383.50" x2="478.16" y2="383.50" stroke="#77736a" stroke-width="1" />
<line x1="476.56" y1="373.50" x2="479.16" y2="373.50" stroke="#77736a" stroke-width="1" />
<line x1="476.56" y1="364.50" x2="478.16" y2="364.50" stroke="#77736a" stroke-width="1" />
<line x1="476.56" y1="354.50" x2="479.16" y2="354.50" stroke="#77736a" stroke-width="1" />
<line x1="476.56" y1="345.50" x2="478.16" y2="345.50" stroke="#77736a" stroke-width="1" />
<text transform="translate(480.30 395.34) scale(0.775 1)" text-anchor="start" font-size="8.7" font-weight="normal" fill="#131313" stroke="#131313" stroke-width="0.34">8</text>
<text transform="translate(480.30 376.52) scale(0.775 1)" text-anchor="start" font-size="8.7" font-weight="normal" fill="#131313" stroke="#131313" stroke-width="0.34">12</text>
<text transform="translate(480.30 357.71) scale(0.775 1)" text-anchor="start" font-size="8.7" font-weight="normal" fill="#131313" stroke="#131313" stroke-width="0.34">16</text>
<text transform="translate(236.40 410.40) scale(0.775 1)" text-anchor="middle" font-size="8.7" font-weight="normal" fill="#131313" stroke="#131313" stroke-width="0.34">0</text>
<text transform="translate(266.42 410.40) scale(0.775 1)" text-anchor="middle" font-size="8.7" font-weight="normal" fill="#131313" stroke="#131313" stroke-width="0.34">1</text>
<text transform="translate(296.44 410.40) scale(0.775 1)" text-anchor="middle" font-size="8.7" font-weight="normal" fill="#131313" stroke="#131313" stroke-width="0.34">2</text>
<text transform="translate(326.46 410.40) scale(0.775 1)" text-anchor="middle" font-size="8.7" font-weight="normal" fill="#131313" stroke="#131313" stroke-width="0.34">3</text>
<text transform="translate(356.48 410.40) scale(0.775 1)" text-anchor="middle" font-size="8.7" font-weight="normal" fill="#131313" stroke="#131313" stroke-width="0.34">4</text>
<text transform="translate(386.50 410.40) scale(0.775 1)" text-anchor="middle" font-size="8.7" font-weight="normal" fill="#131313" stroke="#131313" stroke-width="0.34">5</text>
<text transform="translate(416.52 410.40) scale(0.775 1)" text-anchor="middle" font-size="8.7" font-weight="normal" fill="#131313" stroke="#131313" stroke-width="0.34">6</text>
<text transform="translate(446.54 410.40) scale(0.775 1)" text-anchor="middle" font-size="8.7" font-weight="normal" fill="#131313" stroke="#131313" stroke-width="0.34">7</text>
<text transform="translate(466.6 410.4) scale(0.76 1)" font-size="8.7" fill="#131313" stroke="#131313" stroke-width="0.34">Q m<tspan dy="-2.8" font-size="5.6">3</tspan><tspan dy="2.8">/h</tspan></text>
<path d="M273.40 393.53 C273.90 393.59 275.40 393.77 276.40 393.89 C277.40 394.00 278.39 394.12 279.39 394.23 C280.39 394.34 281.39 394.45 282.39 394.55 C283.39 394.66 284.39 394.76 285.39 394.86 C286.39 394.96 287.38 395.06 288.38 395.15 C289.38 395.24 290.38 395.33 291.38 395.41 C292.38 395.49 293.38 395.57 294.38 395.65 C295.38 395.72 296.37 395.79 297.37 395.86 C298.37 395.92 299.37 395.99 300.37 396.04 C301.37 396.10 302.37 396.15 303.37 396.19 C304.37 396.24 305.36 396.28 306.36 396.31 C307.36 396.35 308.36 396.38 309.36 396.40 C310.36 396.42 311.36 396.44 312.36 396.45 C313.36 396.46 314.35 396.47 315.35 396.47 C316.35 396.46 317.35 396.46 318.35 396.44 C319.35 396.43 320.35 396.41 321.35 396.38 C322.35 396.35 323.34 396.32 324.34 396.27 C325.34 396.23 326.34 396.18 327.34 396.13 C328.34 396.07 329.34 396.01 330.34 395.94 C331.34 395.87 332.33 395.79 333.33 395.70 C334.33 395.62 335.33 395.52 336.33 395.42 C337.33 395.32 338.33 395.21 339.33 395.10 C340.33 394.98 341.32 394.86 342.32 394.72 C343.32 394.59 344.32 394.45 345.32 394.30 C346.32 394.16 347.32 394.00 348.32 393.83 C349.32 393.67 350.31 393.50 351.31 393.32 C352.31 393.13 353.31 392.94 354.31 392.75 C355.31 392.55 356.31 392.34 357.31 392.13 C358.31 391.91 359.30 391.69 360.30 391.46 C361.30 391.23 362.30 390.99 363.30 390.74 C364.30 390.49 365.30 390.23 366.30 389.96 C367.30 389.70 368.29 389.42 369.29 389.14 C370.29 388.85 371.29 388.56 372.29 388.26 C373.29 387.96 374.29 387.65 375.29 387.33 C376.29 387.01 377.28 386.69 378.28 386.35 C379.28 386.02 380.28 385.67 381.28 385.32 C382.28 384.96 383.28 384.60 384.28 384.23 C385.28 383.86 386.27 383.48 387.27 383.10 C388.27 382.71 389.27 382.31 390.27 381.91 C391.27 381.50 392.27 381.09 393.27 380.67 C394.27 380.24 395.26 379.81 396.26 379.38 C397.26 378.94 398.26 378.49 399.26 378.03 C400.26 377.58 401.26 377.11 402.26 376.64 C403.26 376.17 404.25 375.69 405.25 375.20 C406.25 374.71 407.25 374.22 408.25 373.71 C409.25 373.21 410.25 372.69 411.25 372.17 C412.25 371.65 413.24 371.13 414.24 370.59 C415.24 370.05 416.24 369.51 417.24 368.96 C418.24 368.41 419.24 367.85 420.24 367.28 C421.24 366.72 422.23 366.14 423.23 365.56 C424.23 364.98 425.23 364.39 426.23 363.80 C427.23 363.20 428.23 362.60 429.23 361.99 C430.23 361.38 431.22 360.77 432.22 360.15 C433.22 359.52 434.22 358.89 435.22 358.26 C436.22 357.62 437.22 356.98 438.22 356.34 C439.22 355.69 440.21 355.03 441.21 354.37 C442.21 353.71 443.21 353.05 444.21 352.38 C445.21 351.71 446.21 351.03 447.21 350.35 C448.21 349.66 449.20 348.98 450.20 348.28 C451.20 347.59 452.70 346.54 453.20 346.19" fill="none" stroke="#111" stroke-width="1.6" stroke-linecap="butt"/>
<line x1="236.00" y1="427.50" x2="478.00" y2="427.50" stroke="#77736a" stroke-width="1" />
<line x1="236.50" y1="425.10" x2="236.50" y2="429.90" stroke="#77736a" stroke-width="1" />
<text transform="translate(236.50 423.00) scale(0.775 1)" text-anchor="middle" font-size="8.7" font-weight="normal" fill="#131313" stroke="#131313" stroke-width="0.34">0</text>
<line x1="279.50" y1="425.10" x2="279.50" y2="427.50" stroke="#77736a" stroke-width="1" />
<text transform="translate(279.89 423.00) scale(0.775 1)" text-anchor="middle" font-size="8.7" font-weight="normal" fill="#131313" stroke="#131313" stroke-width="0.34">0,4</text>
<line x1="323.50" y1="425.10" x2="323.50" y2="427.50" stroke="#77736a" stroke-width="1" />
<text transform="translate(323.27 423.00) scale(0.775 1)" text-anchor="middle" font-size="8.7" font-weight="normal" fill="#131313" stroke="#131313" stroke-width="0.34">0,8</text>
<line x1="366.50" y1="425.10" x2="366.50" y2="427.50" stroke="#77736a" stroke-width="1" />
<text transform="translate(366.66 423.00) scale(0.775 1)" text-anchor="middle" font-size="8.7" font-weight="normal" fill="#131313" stroke="#131313" stroke-width="0.34">1,2</text>
<line x1="410.50" y1="425.10" x2="410.50" y2="427.50" stroke="#77736a" stroke-width="1" />
<text transform="translate(410.05 423.00) scale(0.775 1)" text-anchor="middle" font-size="8.7" font-weight="normal" fill="#131313" stroke="#131313" stroke-width="0.34">1,6</text>
<line x1="453.50" y1="425.10" x2="453.50" y2="427.50" stroke="#77736a" stroke-width="1" />
<text transform="translate(453.44 423.00) scale(0.775 1)" text-anchor="middle" font-size="8.7" font-weight="normal" fill="#131313" stroke="#131313" stroke-width="0.34">2</text>
<line x1="236.50" y1="427.50" x2="236.50" y2="429.90" stroke="#77736a" stroke-width="1" />
<text transform="translate(236.50 438.60) scale(0.775 1)" text-anchor="middle" font-size="8.7" font-weight="normal" fill="#131313" stroke="#131313" stroke-width="0.34">0</text>
<line x1="272.50" y1="427.50" x2="272.50" y2="429.90" stroke="#77736a" stroke-width="1" />
<text transform="translate(272.66 438.60) scale(0.775 1)" text-anchor="middle" font-size="8.7" font-weight="normal" fill="#131313" stroke="#131313" stroke-width="0.34">20</text>
<line x1="308.50" y1="427.50" x2="308.50" y2="429.90" stroke="#77736a" stroke-width="1" />
<text transform="translate(308.81 438.60) scale(0.775 1)" text-anchor="middle" font-size="8.7" font-weight="normal" fill="#131313" stroke="#131313" stroke-width="0.34">40</text>
<line x1="344.50" y1="427.50" x2="344.50" y2="429.90" stroke="#77736a" stroke-width="1" />
<text transform="translate(344.97 438.60) scale(0.775 1)" text-anchor="middle" font-size="8.7" font-weight="normal" fill="#131313" stroke="#131313" stroke-width="0.34">60</text>
<line x1="381.50" y1="427.50" x2="381.50" y2="429.90" stroke="#77736a" stroke-width="1" />
<text transform="translate(381.12 438.60) scale(0.775 1)" text-anchor="middle" font-size="8.7" font-weight="normal" fill="#131313" stroke="#131313" stroke-width="0.34">80</text>
<line x1="417.50" y1="427.50" x2="417.50" y2="429.90" stroke="#77736a" stroke-width="1" />
<text transform="translate(417.28 438.60) scale(0.775 1)" text-anchor="middle" font-size="8.7" font-weight="normal" fill="#131313" stroke="#131313" stroke-width="0.34">100</text>
<line x1="453.50" y1="427.50" x2="453.50" y2="429.90" stroke="#77736a" stroke-width="1" />
<text transform="translate(453.44 438.60) scale(0.775 1)" text-anchor="middle" font-size="8.7" font-weight="normal" fill="#131313" stroke="#131313" stroke-width="0.34">120</text>
<text transform="translate(466.60 423.00) scale(0.74 1)" text-anchor="start" font-size="8.7" font-weight="normal" fill="#131313" stroke="#131313" stroke-width="0.34">Q l/s</text>
<text transform="translate(467.00 438.60) scale(0.755 1)" text-anchor="start" font-size="8.7" font-weight="normal" fill="#131313" stroke="#131313" stroke-width="0.34">Q l/min</text>
</svg>
<div class="note">Графики гидравлических характеристик указаны при значениях кинематической вязкости<br>жидкости 1 мм<sup>2</sup>/с и плотности жидкости 1000 кг/м<sup>3</sup>. Погрешность гидравлических кривых<br>соответствует стандарту ISO 9906.</div>
</body>
</html>
